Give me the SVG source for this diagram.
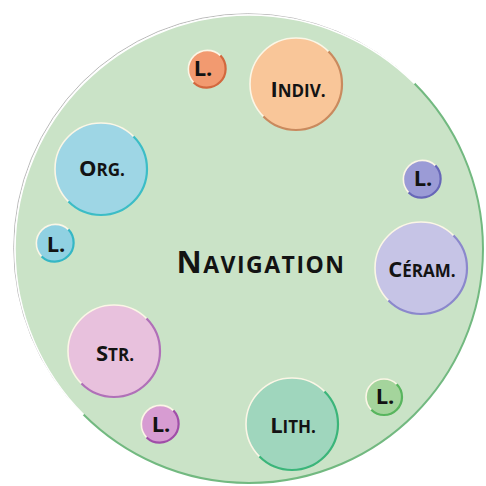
<svg xmlns="http://www.w3.org/2000/svg" xmlns:xlink="http://www.w3.org/1999/xlink" width="486" height="486" viewBox="0 0 486 486">
<style>
  text { font-family: "Open Sans", "Liberation Sans", sans-serif; font-weight: 700; fill: #131313; text-anchor: middle; }
  .lbl { font-size: 22px; }
  .sc { font-size: 17px; }
  .ll { font-size: 22px; }
  .light { fill: none; stroke: #fbf6e6; stroke-width: 1.6; }
  .dark { fill: none; stroke-width: 2.2; }
</style>
<defs>
  <path id="bigDark" d="M32.53,-32.53 A46,46 0 0 1 -32.53,32.53"/>
  <path id="bigLight" d="M-32.53,32.53 A46,46 0 0 1 32.53,-32.53"/>
  <path id="smDark" d="M13.43,-13.43 A19,19 0 0 1 -13.43,13.43"/>
  <path id="smLight" d="M-13.43,13.43 A19,19 0 0 1 13.43,-13.43"/>
</defs>

<g id="background">
  <path d="M83.5,414.5 A234,234 0 0 1 414.5,83.5" fill="none" stroke="#a8a8a8" stroke-width="0.8" transform="translate(-1.3,-1.3)"/>
  <circle cx="249" cy="249" r="234" fill="#cae3c7"/>
  <path d="M414.5,83.5 A234,234 0 0 1 83.5,414.5" fill="none" stroke="#72b980" stroke-width="2"/>
  <path d="M83.5,414.5 A234,234 0 0 1 414.5,83.5" fill="none" stroke="#ffffff" stroke-width="1.5"/>
</g>

<g id="connectors"></g>

<g id="center-label">
  <text x="261" y="273" style="font-size:31px" letter-spacing="1.5">N<tspan style="font-size:23px">AVIGATION</tspan></text>
</g>

<g id="indiv" transform="translate(296,84)">
  <circle r="46" fill="#f9c699"/>
  <use xlink:href="#bigLight" class="light"/>
  <use xlink:href="#bigDark" class="dark" stroke="#c98a5e"/>
  <text x="2" y="13" class="lbl">I<tspan class="sc">NDIV.</tspan></text>
</g>

<g id="l-orange" transform="translate(207,69)">
  <circle r="19" fill="#f29a70"/>
  <use xlink:href="#smLight" class="light"/>
  <use xlink:href="#smDark" class="dark" stroke="#d2683e"/>
  <text x="-4" y="7" class="ll">L.</text>
</g>

<g id="org" transform="translate(101,169)">
  <circle r="46" fill="#9ed6e5"/>
  <use xlink:href="#bigLight" class="light"/>
  <use xlink:href="#bigDark" class="dark" stroke="#3cbdc6"/>
  <text x="1" y="7" class="lbl">O<tspan class="sc">RG.</tspan></text>
</g>

<g id="l-blue" transform="translate(55,243)">
  <circle r="19" fill="#90d1e2"/>
  <use xlink:href="#smLight" class="light"/>
  <use xlink:href="#smDark" class="dark" stroke="#35b7c5"/>
  <text x="1" y="9" class="ll">L.</text>
</g>

<g id="l-purple" transform="translate(422,179)">
  <circle r="19" fill="#9b9bd6"/>
  <use xlink:href="#smLight" class="light"/>
  <use xlink:href="#smDark" class="dark" stroke="#6767b8"/>
  <text x="1" y="7" class="ll">L.</text>
</g>

<g id="ceram" transform="translate(421,268)">
  <circle r="46" fill="#c6c4e6"/>
  <use xlink:href="#bigLight" class="light"/>
  <use xlink:href="#bigDark" class="dark" stroke="#8b88cc"/>
  <text x="1" y="9" class="lbl">C<tspan class="sc">ÉRAM.</tspan></text>
</g>

<g id="str" transform="translate(114,351)">
  <circle r="46" fill="#e8c1dd"/>
  <use xlink:href="#bigLight" class="light"/>
  <use xlink:href="#bigDark" class="dark" stroke="#b070b8"/>
  <text x="1" y="10" class="lbl">S<tspan class="sc">TR.</tspan></text>
</g>

<g id="l-magenta" transform="translate(160,424)">
  <circle r="19" fill="#d79cd2"/>
  <use xlink:href="#smLight" class="light"/>
  <use xlink:href="#smDark" class="dark" stroke="#a04ea8"/>
  <text x="1" y="8" class="ll">L.</text>
</g>

<g id="lith" transform="translate(292,424)">
  <circle r="46" fill="#9fd6bd"/>
  <use xlink:href="#bigLight" class="light"/>
  <use xlink:href="#bigDark" class="dark" stroke="#3bb57a"/>
  <text x="1" y="9" class="lbl">L<tspan class="sc">ITH.</tspan></text>
</g>

<g id="l-green" transform="translate(384,397)">
  <circle r="18" fill="#a4d49c"/>
  <path d="M-12.73,12.73 A18,18 0 0 1 12.73,-12.73" class="light"/>
  <path d="M12.73,-12.73 A18,18 0 0 1 -12.73,12.73" class="dark" stroke="#58b55e"/>
  <text x="1" y="7" class="ll">L.</text>
</g>
</svg>
